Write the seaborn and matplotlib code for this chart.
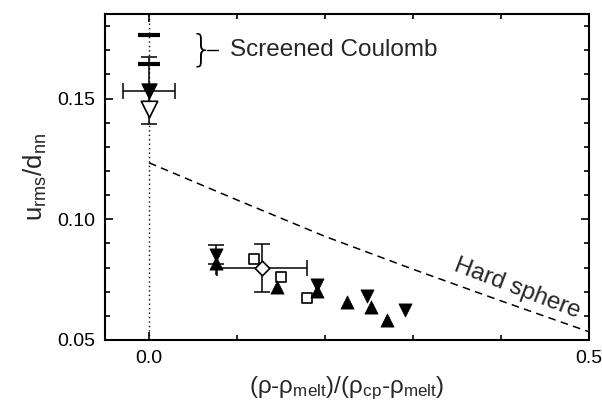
import numpy as np
import pandas as pd
import matplotlib
matplotlib.use("Agg")
import matplotlib.pyplot as plt
from matplotlib.ticker import MultipleLocator
import seaborn as sns

# ---- data ----
sc_bar_x = [0.0, 0.0]
sc_bar_y = [0.1762, 0.1642]

top_filled_x = [0.0]
top_filled_y = [0.1532]
top_filled_xerr = [0.030]
top_filled_yerr = [0.0139]
top_open_x = [0.0]
top_open_y = [0.1455]

down_x = [0.0765, 0.191, 0.2474, 0.291]
down_y = [0.0854, 0.0728, 0.0681, 0.0626]
up_x = [0.0765, 0.1456, 0.191, 0.2246, 0.2523, 0.2709]
up_y = [0.0817, 0.0719, 0.0702, 0.0658, 0.0635, 0.0582]
sq_x = [0.1194, 0.1498, 0.179]
sq_y = [0.0836, 0.0761, 0.0672]

dia_x = [0.128]
dia_y = [0.0798]
dia_xerr = [0.051]
dia_yerr = [0.010]

down_err_x = [0.0765]
down_err_y = [0.0854]
down_err = [0.0040]
up_err_x = [0.0765]
up_err_y = [0.0817]
up_err = [0.0047]

hs_x = [0.0, 0.1, 0.2, 0.3, 0.4, 0.5]
hs_y = [0.1234, 0.1080, 0.0929, 0.0793, 0.0662, 0.0534]

sns.set_theme(style="ticks")
plt.rcParams['font.family'] = ['Liberation Sans', 'DejaVu Sans']
plt.rcParams['mathtext.default'] = 'regular'

fig = plt.figure(figsize=(6.02, 4.09), dpi=100)
ax = fig.add_axes([105/602, 69/409, 484/602, 326/409])

# dotted vertical line at x=0
ax.axvline(0, color='black', ls=(0, (1, 2.2)), lw=1.0, zorder=1)

# hard sphere
sns.lineplot(x=hs_x, y=hs_y, ax=ax, color='black', lw=1.1, zorder=1)
ax.lines[-1].set_dashes((5, 3.5))

# error bars
ax.errorbar(top_filled_x, top_filled_y, xerr=top_filled_xerr, yerr=top_filled_yerr,
            fmt='none', ecolor='black', elinewidth=1.1, capsize=5.5, capthick=1.1, zorder=2)
ax.errorbar(dia_x, dia_y, xerr=dia_xerr, yerr=dia_yerr,
            fmt='none', ecolor='black', elinewidth=1.1, capsize=6, capthick=1.1, zorder=2)
ax.errorbar(down_err_x, down_err_y, yerr=down_err,
            fmt='none', ecolor='black', elinewidth=1.1, capsize=6, capthick=1.1, zorder=2)
ax.errorbar(up_err_x, up_err_y, yerr=up_err,
            fmt='none', ecolor='black', elinewidth=1.1, capsize=0, zorder=2)

# markers
sns.scatterplot(x=sc_bar_x, y=sc_bar_y, ax=ax, marker='_', s=260, color='black',
                linewidth=3, zorder=3)
sns.scatterplot(x=top_filled_x, y=top_filled_y, ax=ax, marker='v', s=120, color='black',
                edgecolor='black', linewidth=0.8, zorder=4)
sns.scatterplot(x=top_open_x, y=top_open_y, ax=ax, marker='v', s=140, color='white',
                edgecolor='black', linewidth=1.2, zorder=4)
sns.scatterplot(x=sq_x, y=sq_y, ax=ax, marker='s', s=55, color='white',
                edgecolor='black', linewidth=1.2, zorder=3)
sns.scatterplot(x=down_x, y=down_y, ax=ax, marker='v', s=90, color='black',
                edgecolor='black', linewidth=0.5, zorder=4)
sns.scatterplot(x=up_x, y=up_y, ax=ax, marker='^', s=90, color='black',
                edgecolor='black', linewidth=0.5, zorder=4)
sns.scatterplot(x=dia_x, y=dia_y, ax=ax, marker='D', s=55, color='white',
                edgecolor='black', linewidth=1.2, zorder=5)

# annotations
ax.text(0.046, 0.1702, '}', fontsize=27, family='DejaVu Sans', fontweight='light',
        ha='left', va='center', color='black')
ax.plot([0.066, 0.078], [0.1702, 0.1702], color='black', lw=1.0)
ax.text(0.0915, 0.1702, 'Screened Coulomb', fontsize=17.5, ha='left', va='center')
ax.text(0.418, 0.0712, 'Hard sphere', fontsize=17.5, ha='center', va='center',
        rotation=-21)

ax.set_xlim(-0.05, 0.5)
ax.set_ylim(0.05, 0.185)
ax.set_xticks([0.0, 0.5])
ax.set_xticklabels(['0.0', '0.5'])
ax.xaxis.set_minor_locator(MultipleLocator(0.1))
ax.set_yticks([0.05, 0.10, 0.15])
ax.set_yticklabels(['0.05', '0.10', '0.15'])
ax.yaxis.set_minor_locator(MultipleLocator(0.01))

ax.tick_params(which='both', direction='in', top=True, right=True, colors='black',
               labelsize=14, width=1.2)
ax.tick_params(which='major', length=6, pad=7)
ax.tick_params(which='minor', length=3.5)
for sp in ax.spines.values():
    sp.set_linewidth(1.5)
    sp.set_color('black')

ax.set_xlabel(r'(ρ-ρ$_{melt}$)/(ρ$_{cp}$-ρ$_{melt}$)', fontsize=17.5, labelpad=6)
ax.set_ylabel(r'u$_{rms}$/d$_{nn}$', fontsize=18.5, labelpad=6)

fig.savefig('out.png', dpi=100)
